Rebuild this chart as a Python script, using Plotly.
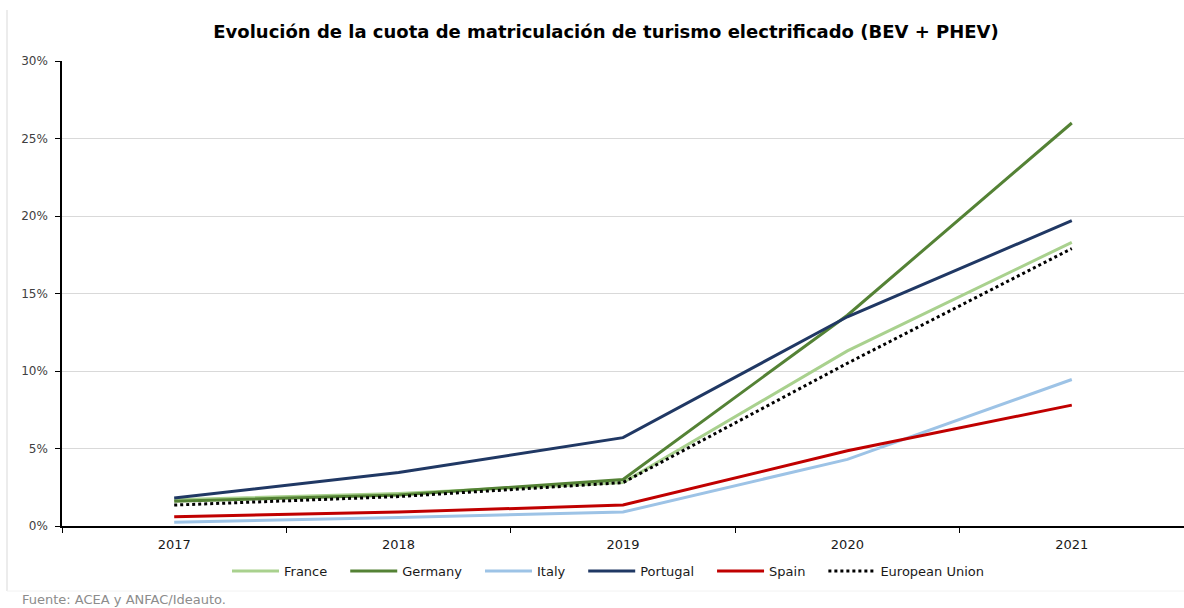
import plotly.graph_objects as go

years = ["2017", "2018", "2019", "2020", "2021"]
france = [1.7, 2.1, 2.8, 11.3, 18.3]
germany = [1.6, 2.0, 3.0, 13.6, 26.0]
italy = [0.25, 0.55, 0.9, 4.3, 9.45]
portugal = [1.8, 3.45, 5.7, 13.5, 19.7]
spain = [0.6, 0.9, 1.35, 4.85, 7.8]
eu = [1.35, 1.9, 2.8, 10.5, 17.9]

series = [
    ("France", france, "#a9d18e", "solid"),
    ("Germany", germany, "#548235", "solid"),
    ("Italy", italy, "#9dc3e6", "solid"),
    ("Portugal", portugal, "#203864", "solid"),
    ("Spain", spain, "#c00000", "solid"),
    ("European Union", eu, "#000000", "dot"),
]

FONT = "DejaVu Sans, Verdana, sans-serif"
PAD = "\u2002\u2002"  # visual spacing after each legend entry

fig = go.Figure()
for name, vals, color, dash in series:
    fig.add_trace(go.Scatter(
        x=years, y=[v / 100 for v in vals], name=name + PAD, mode="lines",
        line=dict(color=color, width=3, dash=dash),
    ))

L, T, B = 62, 61, 82
W, H = 1184, 608
pw = W - L
ph = H - T - B

def px(xp):
    return (xp - L) / pw

def py(yp):
    return (H - B - yp) / ph

fig.update_layout(
    width=W, height=H,
    margin=dict(l=L, r=0, t=T, b=B, autoexpand=False),
    paper_bgcolor="white", plot_bgcolor="white",
    font=dict(family=FONT, size=12, color="#404040"),
    title=dict(
        text="<b>Evolución de la cuota de matriculación de turismo electrificado (BEV + PHEV)</b>",
        x=606 / W, xanchor="center", y=1 - 32 / H, yanchor="middle",
        font=dict(family=FONT, size=18, color="#000000"),
    ),
    xaxis=dict(
        type="category", range=[-0.5, 4.5],
        showline=True, linecolor="#000000", linewidth=2,
        ticks="outside", tickson="boundaries", ticklen=5, tickcolor="#000000",
        ticklabelstandoff=5,
        showgrid=False, tickfont=dict(size=13, color="#1a1a1a"),
    ),
    yaxis=dict(
        range=[0, 0.30], tickvals=[0, 0.05, 0.10, 0.15, 0.20, 0.25, 0.30],
        tickformat=".0%",
        showline=True, linecolor="#000000", linewidth=1.5,
        ticks="outside", ticklen=5, tickcolor="#000000",
        ticklabelstandoff=5,
        showgrid=True, gridcolor="#d9d9d9", gridwidth=1,
        tickfont=dict(size=12, color="#404040"), zeroline=False,
    ),
    legend=dict(
        orientation="h", x=px(232 - 5), xanchor="left",
        y=py(571), yanchor="middle", font=dict(family=FONT, size=13, color="#1a1a1a"),
        bgcolor="rgba(0,0,0,0)", tracegroupgap=0, itemwidth=47,
    ),
    showlegend=True,
)

fig.add_shape(type="line", xref="paper", yref="paper",
              x0=px(7), x1=px(7), y0=py(10), y1=py(591),
              line=dict(color="#d9d9d9", width=1))
fig.add_shape(type="line", xref="paper", yref="paper",
              x0=px(7), x1=px(1184), y0=py(591), y1=py(591),
              line=dict(color="#f2f2f2", width=1))

fig.add_annotation(
    text="Fuente: ACEA y ANFAC/Ideauto.", xref="paper", yref="paper",
    x=px(20), y=py(599), xanchor="left", yanchor="middle", showarrow=False,
    font=dict(family=FONT, size=13, color="#8c8c8c"),
)

fig.write_html("out.html", config={"displayModeBar": False},
               post_script="document.body.style.margin='0';document.body.style.overflow='hidden';")
